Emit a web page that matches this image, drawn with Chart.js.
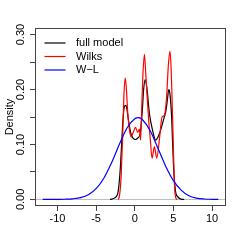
<!DOCTYPE html>
<html>
<head>
<meta charset="utf-8">
<script src="https://cdn.jsdelivr.net/npm/chart.js@4.4.0/dist/chart.umd.min.js"></script>
<style>
  html, body { margin: 0; padding: 0; background: #fff; }
  #wrap { width: 241px; height: 241px; }
</style>
</head>
<body>
<div id="wrap"><canvas id="densityChart"></canvas></div>
<script>
// series names and colours
const seriesNames = ['full model', 'Wilks', 'W\u2212L'];
const seriesColors = ['#000000', '#ff0000', '#0000ff'];

// full model density
const fullX = [-3.2, -3.0, -2.7, -2.4, -2.15, -1.9, -1.7, -1.5, -1.3, -1.15, -1.0, -0.8, -0.5, -0.2, 0.1, 0.4, 0.7, 0.95, 1.15, 1.35, 1.55, 1.9, 2.3, 2.7, 3.2, 3.7, 4.05, 4.25, 4.4, 4.55, 4.77, 5.0, 5.25, 5.55, 6.0, 6.4];
const fullY = [0, 0.0005, 0.002, 0.005, 0.014, 0.05, 0.10, 0.15, 0.17, 0.171, 0.163, 0.143, 0.12, 0.111, 0.109, 0.112, 0.12, 0.156, 0.200, 0.218, 0.205, 0.156, 0.126, 0.108, 0.120, 0.144, 0.163, 0.185, 0.200, 0.192, 0.150, 0.065, 0.017, 0.005, 0.0005, 0];

// Wilks density
const wilksX = [-2.2, -2.05, -1.9, -1.75, -1.55, -1.4, -1.24, -1.1, -0.9, -0.68, -0.47, -0.2, 0.09, 0.39, 0.6, 0.75, 0.9, 1.05, 1.25, 1.4, 1.55, 1.8, 2.02, 2.24, 2.54, 2.84, 3.18, 3.53, 3.83, 4.12, 4.35, 4.55, 4.7, 4.82, 4.99, 5.15, 5.33, 5.5];
const wilksY = [0, 0.002, 0.015, 0.045, 0.12, 0.19, 0.221, 0.205, 0.156, 0.126, 0.114, 0.122, 0.131, 0.122, 0.128, 0.108, 0.165, 0.225, 0.264, 0.235, 0.199, 0.144, 0.108, 0.075, 0.096, 0.075, 0.108, 0.150, 0.153, 0.187, 0.245, 0.270, 0.24, 0.187, 0.096, 0.023, 0.002, 0];

// W-L density
const wlX = [-11.9, -10, -9, -8, -7, -6, -5, -4, -3, -2, -1, 0, 0.5, 1, 2, 3, 4, 5, 6, 7, 8, 9, 10, 10.8];
const wlY = [0, 0.0001, 0.0003, 0.0011, 0.0033, 0.0086, 0.0196, 0.0386, 0.0667, 0.0998, 0.130, 0.147, 0.149, 0.145, 0.125, 0.093, 0.0605, 0.0342, 0.0168, 0.0065, 0.0022, 0.0007, 0.0002, 0];

// axis ticks
const xTicks = [-10, -5, 0, 5, 10];
const yLabelled = [0, 0.1, 0.2, 0.3];

const toPoints = (xs, ys) => xs.map((x, i) => ({ x: x, y: ys[i] }));
const FONT = 'Arial, "Liberation Sans", Helvetica, sans-serif';

// box around the plot region + legend in the top left corner
const boxAndLegend = {
    id: 'boxAndLegend',
    afterDraw(chart) {
        const ctx = chart.ctx;
        const a = chart.chartArea;
        ctx.save();
        ctx.strokeStyle = '#444';
        ctx.lineWidth = 1;
        ctx.strokeRect(Math.round(a.left) + 0.5, Math.round(a.top) + 0.5,
            Math.round(a.right - a.left) - 1, Math.round(a.bottom - a.top) - 1);

        ctx.font = '11px ' + FONT;
        ctx.textBaseline = 'middle';
        ctx.fillStyle = '#000';
        seriesNames.forEach((name, i) => {
            const y = a.top + 15 + i * 13.5;
            ctx.strokeStyle = seriesColors[i];
            ctx.lineWidth = 1.2;
            ctx.beginPath();
            ctx.moveTo(a.left + 9.5, y);
            ctx.lineTo(a.left + 30.5, y);
            ctx.stroke();
            ctx.fillText(name, a.left + 41, y);
        });
        ctx.restore();
    }
};

const lineDataset = (i, xs, ys, order) => ({
    label: seriesNames[i],
    data: toPoints(xs, ys),
    borderColor: seriesColors[i],
    backgroundColor: seriesColors[i],
    borderWidth: 1.2,
    showLine: true,
    pointRadius: 0,
    cubicInterpolationMode: 'monotone',
    order: order
});

const config = {
    type: 'scatter',
    data: {
        datasets: [
            lineDataset(0, fullX, fullY, 3),
            lineDataset(1, wilksX, wilksY, 2),
            lineDataset(2, wlX, wlY, 1)
        ]
    },
    options: {
        responsive: true,
        maintainAspectRatio: false,
        animation: false,
        devicePixelRatio: 1,
        layout: { padding: { left: 0, top: 28, right: 15, bottom: 0 } },
        plugins: {
            legend: { display: false },
            tooltip: { enabled: false }
        },
        scales: {
            x: {
                type: 'linear',
                min: -12.9,
                max: 11.8,
                afterFit: s => { s.height = 35; },
                afterBuildTicks: s => { s.ticks = xTicks.map(v => ({ value: v })); },
                border: { display: false },
                grid: { drawOnChartArea: false, tickLength: 5, tickColor: '#444' },
                ticks: {
                    color: '#000',
                    font: { family: FONT, size: 11 },
                    padding: 1,
                    maxRotation: 0,
                    callback: v => String(v)
                }
            },
            y: {
                type: 'linear',
                min: -0.012,
                max: 0.312,
                afterFit: s => { s.width = 35; },
                border: { display: false },
                grid: {
                    drawOnChartArea: true,
                    tickLength: 5,
                    tickColor: '#444',
                    color: c => (c.tick && c.tick.value === 0) ? '#bebebe' : 'rgba(0,0,0,0)'
                },
                ticks: {
                    stepSize: 0.05,
                    includeBounds: false,
                    color: '#000',
                    font: { family: FONT, size: 11 },
                    padding: -2,
                    minRotation: 90,
                    maxRotation: 90,
                    crossAlign: 'center',
                    callback: v => yLabelled.some(t => Math.abs(t - v) < 1e-9) ? v.toFixed(2) : ''
                },
                title: {
                    display: true,
                    text: 'Density',
                    color: '#000',
                    font: { family: FONT, size: 11 },
                    padding: { top: 3, bottom: 0 }
                }
            }
        }
    },
    plugins: [boxAndLegend]
};

new Chart(document.getElementById('densityChart'), config);
</script>
</body>
</html>
